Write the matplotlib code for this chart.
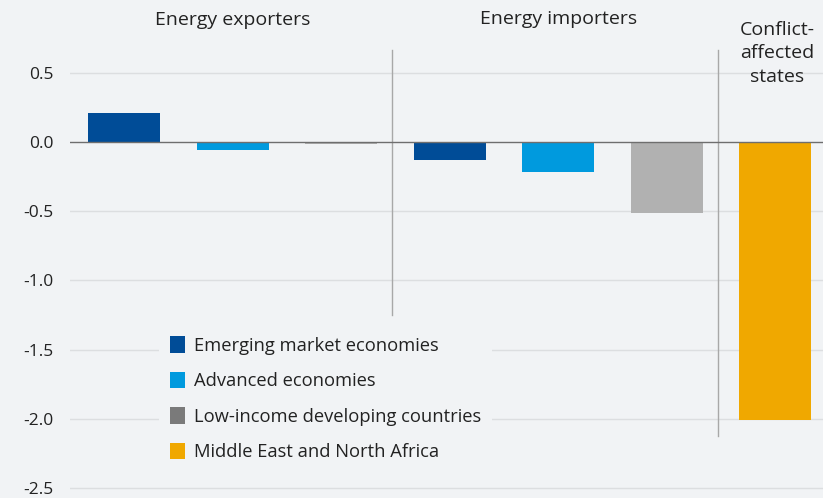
import matplotlib.pyplot as plt
from matplotlib.patches import Patch

plt.rcParams['font.family'] = ['Open Sans', 'DejaVu Sans']

# Change by country group
groups = ['Energy exporters', 'Energy importers', 'Conflict-\naffected\nstates']
series = ['Emerging market economies', 'Advanced economies',
          'Low-income developing countries', 'Middle East and North Africa']
exporters = [0.21, -0.055, -0.015]
importers = [-0.13, -0.22, -0.51]
conflict = [-2.01]

bar_colors = ['#004c97', '#009ade', '#b1b1b1']
legend_colors = ['#004c97', '#009ade', '#7a7a7a', '#f0a800']
bg = '#f1f3f5'
txt = '#222222'

fig = plt.figure(figsize=(8.23, 4.98), dpi=100, facecolor=bg)
ax = fig.add_axes([70 / 823, 0, 753 / 823, 1])
ax.set_facecolor(bg)

values = exporters + importers + conflict
colors = bar_colors + bar_colors + ['#f0a800']
x = list(range(len(values)))
ax.bar(x, values, width=0.665, color=colors, zorder=3)

ax.set_xlim(-0.5, 6.44)
ax.set_ylim(-2.572, 1.026)
yt = [0.5, 0.0, -0.5, -1.0, -1.5, -2.0, -2.5]
ax.set_yticks(yt)
ax.set_yticklabels([f'{v:.1f}' for v in yt], fontsize=12.5, color=txt)
ax.tick_params(axis='y', length=0, pad=12)
ax.set_xticks([])
for s in ax.spines.values():
    s.set_visible(False)
for v in yt:
    if v != 0:
        ax.axhline(v, color='#dcdee0', lw=1, zorder=1)
ax.axhline(0, color='#6e6e6e', lw=1, zorder=4)

# group separators
ax.plot([2.47, 2.47], [-1.25, 0.666], color='#a8a8a8', lw=1, zorder=2)
ax.plot([5.47, 5.47], [-2.125, 0.666], color='#a8a8a8', lw=1, zorder=2)

ax.text(1, 0.882, groups[0], ha='center', va='center', fontsize=14, color=txt)
ax.text(4, 0.889, groups[1], ha='center', va='center', fontsize=14, color=txt)
ax.text(6.02, 0.875, groups[2], ha='center', va='top', fontsize=14,
        color=txt, linespacing=1.4)

handles = [Patch(facecolor=c, edgecolor='none') for c in legend_colors]
leg = ax.legend(handles, series, loc='upper left', bbox_to_anchor=(0.106, 0.3655),
                fontsize=13.2, frameon=True, facecolor=bg, edgecolor='none',
                framealpha=1, handlelength=0.8, handleheight=1.0,
                handletextpad=0.5, labelspacing=0.93, borderpad=0.6)
leg.set_zorder(5)
for t in leg.get_texts():
    t.set_color(txt)

fig.savefig('out.png', dpi=100, facecolor=bg)
